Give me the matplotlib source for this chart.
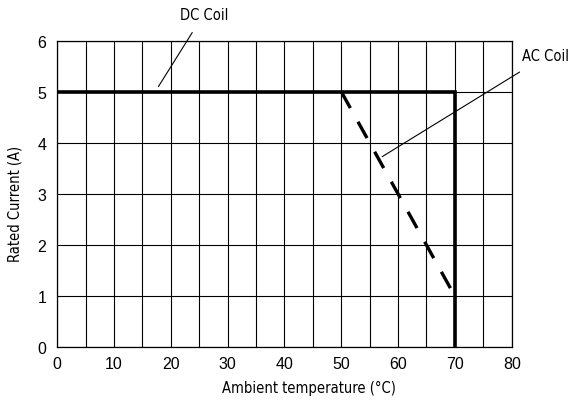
import matplotlib
matplotlib.use("Agg")
import matplotlib.pyplot as plt
import numpy as np

dc_x = [0, 70, 70]
dc_y = [5, 5, 0]
ac_x = [50, 70]
ac_y = [5, 1]
x_ticks = [0, 10, 20, 30, 40, 50, 60, 70, 80]
y_ticks = [0, 1, 2, 3, 4, 5, 6]

narrow = ['DejaVu Sans']
fig = plt.figure(figsize=(5.73, 4.02), dpi=100)
ax = fig.add_axes([0.100, 0.1335, 0.793, 0.7630])
ax.set_xlim(0, 80)
ax.set_ylim(0, 6)
ax.set_xticks(x_ticks)
ax.set_xticks(np.arange(0, 81, 5), minor=True)
ax.set_yticks(y_ticks)
ax.grid(True, which='both', color='black', linewidth=0.8)
ax.tick_params(which='both', length=0)
ax.tick_params(axis='x', pad=6, labelsize=11.5)
ax.tick_params(axis='y', pad=8, labelsize=11.5)
for s in ax.spines.values():
    s.set_linewidth(0.9)
for lbl in ax.get_xticklabels() + ax.get_yticklabels():
    lbl.set_family(['Liberation Sans', 'DejaVu Sans'])

ax.plot(dc_x, dc_y, color='black', linewidth=2.6, solid_joinstyle='miter', zorder=3)
ax.plot(ac_x, ac_y, color='black', linewidth=2.4, dashes=(5.6, 4.7), zorder=3)

fs = dict(family=narrow, fontsize=10.5, fontstretch='condensed')
ax.set_xlabel('Ambient temperature (°C)', **fs)
ax.xaxis.set_label_coords(0.553, -0.105)
ax.set_ylabel('Rated Current (A)', **fs)
ax.yaxis.set_label_coords(-0.077, 0.47)

ax.annotate('DC Coil', xy=(17.8, 5.1), xytext=(25.8, 6.52), ha='center', va='center',
            annotation_clip=False,
            arrowprops=dict(arrowstyle='-', color='black', linewidth=0.8, shrinkA=7, shrinkB=0), **fs)
ax.annotate('AC Coil', xy=(57.2, 3.73), xytext=(86.0, 5.70), ha='center', va='center',
            annotation_clip=False,
            arrowprops=dict(arrowstyle='-', color='black', linewidth=0.8, shrinkA=8, shrinkB=0), **fs)

fig.savefig('out.png', dpi=100)
